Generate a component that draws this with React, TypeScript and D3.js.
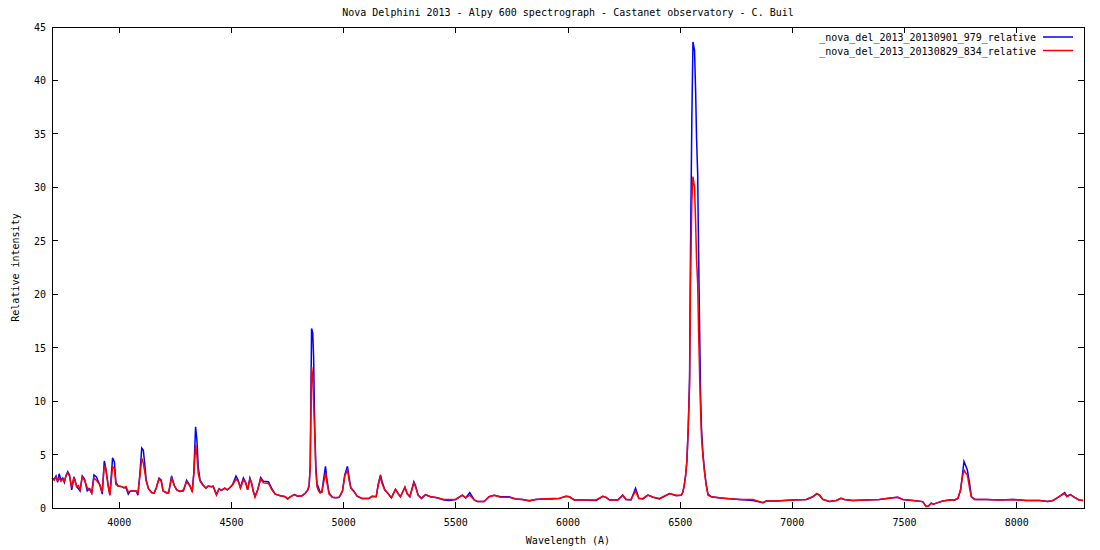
import React from 'react';
import * as d3 from 'd3';

// wavelength grid (Angstrom) shared by both spectra
const wavelengths = [
  3700, 3710, 3718, 3725, 3732, 3740, 3748, 3755, 3762, 3770, 3778, 3788, 3798, 3810, 3818, 3825, 3835, 3845, 3857, 3868,
  3877, 3887, 3898, 3914, 3924, 3933, 3940, 3950, 3958, 3970, 3978, 3985, 3995, 4010, 4020, 4030, 4040, 4050, 4065, 4075,
  4083, 4092, 4100, 4107, 4114, 4120, 4130, 4144, 4155, 4165, 4177, 4187, 4195, 4210, 4220, 4233, 4245, 4256, 4270, 4286,
  4300, 4315, 4325, 4332, 4340, 4346, 4352, 4360, 4372, 4386, 4396, 4411, 4418, 4433, 4445, 4455, 4470, 4481, 4490, 4505,
  4520, 4530, 4540, 4553, 4563, 4572, 4582, 4590, 4597, 4605, 4617, 4630, 4642, 4665, 4680, 4695, 4718, 4740, 4750, 4762,
  4780, 4795, 4815, 4830, 4840, 4846, 4851, 4854, 4857, 4862, 4866, 4871, 4876, 4881, 4888, 4895, 4903, 4912, 4919, 4926,
  4935, 4950, 4965, 4980, 4995, 5005, 5017, 5024, 5032, 5045, 5060, 5082, 5112, 5127, 5145, 5154, 5164, 5171, 5183, 5198,
  5213, 5231, 5243, 5253, 5273, 5283, 5295, 5313, 5320, 5332, 5347, 5365, 5387, 5417, 5447, 5470, 5499, 5529, 5544, 5562,
  5582, 5596, 5626, 5648, 5671, 5700, 5737, 5767, 5797, 5827, 5856, 5886, 5931, 5961, 5991, 6006, 6028, 6065, 6125, 6155,
  6170, 6185, 6222, 6244, 6259, 6281, 6301, 6316, 6334, 6356, 6380, 6408, 6453, 6482, 6505, 6512, 6518, 6524, 6530, 6536,
  6542, 6546, 6552, 6557, 6564, 6569, 6573, 6578, 6582, 6587, 6591, 6595, 6601, 6609, 6616, 6624, 6639, 6672, 6705, 6765,
  6824, 6869, 6883, 6928, 7002, 7062, 7091, 7109, 7121, 7136, 7165, 7195, 7217, 7232, 7269, 7328, 7388, 7447, 7470, 7492,
  7537, 7581, 7596, 7608, 7619, 7629, 7648, 7671, 7700, 7723, 7738, 7750, 7757, 7765, 7772, 7780, 7790, 7798, 7813, 7865,
  7924, 7983, 8043, 8102, 8139, 8161, 8184, 8199, 8214, 8224, 8239, 8258, 8278, 8296,
];

// _nova_del_2013_20130901_979_relative (blue)
const sept01 = [
  2.8, 2.7, 3.0, 2.4, 3.2, 2.6, 2.8, 2.4, 3.0, 3.4, 3.1, 1.7, 2.9, 2.0, 1.8, 1.6, 3.0, 2.7, 1.6, 1.8,
  1.4, 3.1, 2.9, 2.1, 1.3, 4.4, 3.7, 2.2, 1.2, 4.7, 4.3, 2.4, 2.05, 2.0, 1.9, 1.9, 1.3, 1.6, 1.6, 1.6,
  1.2, 3.3, 5.6, 5.4, 4.0, 2.6, 1.8, 1.45, 1.4, 1.9, 2.8, 2.6, 1.6, 1.4, 1.4, 3.0, 2.1, 1.7, 1.55, 1.6,
  2.6, 2.1, 1.5, 3.3, 7.6, 6.3, 3.8, 2.6, 2.2, 1.85, 2.05, 2.0, 2.05, 1.3, 1.8, 1.65, 1.85, 1.7, 1.85, 2.2,
  3.0, 2.6, 1.9, 2.8, 2.4, 1.7, 2.8, 2.3, 1.6, 1.1, 1.7, 2.85, 2.5, 2.45, 1.8, 1.3, 1.15, 1.05, 0.85, 1.05,
  1.25, 1.1, 1.15, 1.4, 1.7, 2.1, 3.9, 10.3, 16.8, 16.4, 14.2, 7.6, 3.9, 2.3, 1.9, 1.5, 1.5, 2.9, 3.9, 2.6,
  1.4, 1.0, 0.95, 1.0, 1.6, 3.1, 3.9, 2.9, 1.9, 1.6, 1.1, 0.9, 0.9, 1.1, 1.05, 2.2, 3.1, 2.5, 1.7, 1.35,
  0.95, 1.75, 1.35, 1.05, 1.95, 1.35, 1.05, 2.45, 2.1, 1.2, 0.9, 1.25, 1.05, 0.95, 0.75, 0.7, 0.8, 1.2, 0.95, 1.45,
  0.75, 0.6, 0.6, 1.05, 1.2, 1.05, 1.05, 0.85, 0.8, 0.65, 0.8, 0.85, 0.85, 0.9, 1.1, 1.05, 0.75, 0.75, 0.7, 1.1,
  1.0, 0.75, 0.75, 1.2, 0.8, 0.75, 1.85, 0.9, 0.85, 1.2, 1.0, 0.85, 1.35, 1.15, 1.2, 1.5, 2.1, 3.0, 4.4, 7.5,
  12.3, 24.0, 36.45, 43.6, 42.8, 38.9, 34.6, 31.3, 24.0, 16.35, 10.4, 7.5, 5.2, 3.4, 2.2, 1.3, 1.05, 0.95, 0.9, 0.8,
  0.7, 0.5, 0.65, 0.65, 0.75, 0.8, 1.05, 1.35, 1.2, 0.8, 0.6, 0.7, 0.9, 0.8, 0.7, 0.75, 0.8, 0.95, 1.0, 0.8,
  0.7, 0.6, 0.15, 0.2, 0.45, 0.35, 0.5, 0.65, 0.75, 0.75, 0.9, 1.7, 2.9, 4.35, 4.0, 3.55, 2.3, 1.05, 0.8, 0.8,
  0.75, 0.8, 0.7, 0.7, 0.6, 0.7, 1.0, 1.2, 1.45, 1.1, 1.25, 1.0, 0.75, 0.7,
];

// _nova_del_2013_20130829_834_relative (red)
const aug29 = [
  2.8, 2.6, 2.9, 2.6, 2.8, 2.5, 2.7, 2.5, 3.0, 3.3, 3.0, 1.9, 2.9, 2.0, 2.1, 1.7, 2.9, 2.6, 1.9, 1.7,
  1.4, 2.8, 2.6, 2.15, 1.5, 4.0, 3.6, 2.1, 1.2, 3.9, 3.7, 2.2, 2.05, 2.0, 1.9, 2.0, 1.5, 1.6, 1.6, 1.6,
  1.4, 3.0, 4.65, 4.2, 3.3, 2.5, 1.8, 1.45, 1.4, 1.9, 2.7, 2.5, 1.6, 1.45, 1.45, 2.8, 2.1, 1.7, 1.55, 1.7,
  2.45, 2.05, 1.6, 3.1, 5.9, 4.9, 3.2, 2.5, 2.15, 1.85, 2.05, 2.0, 2.05, 1.2, 1.8, 1.65, 1.85, 1.7, 1.85, 2.15,
  2.7, 2.5, 1.85, 2.6, 2.4, 1.7, 2.7, 2.3, 1.55, 1.0, 1.7, 2.7, 2.35, 2.3, 1.7, 1.3, 1.15, 1.05, 0.85, 1.05,
  1.25, 1.1, 1.15, 1.4, 1.7, 2.0, 3.9, 8.5, 13.2, 12.3, 10.0, 7.0, 3.5, 2.0, 1.6, 1.4, 1.5, 2.5, 3.3, 2.3,
  1.3, 1.0, 0.95, 1.0, 1.6, 3.0, 3.55, 2.6, 1.85, 1.55, 1.1, 0.9, 0.9, 1.1, 1.05, 2.15, 2.9, 2.3, 1.7, 1.35,
  0.95, 1.75, 1.35, 1.05, 1.95, 1.35, 1.05, 2.35, 2.0, 1.2, 0.9, 1.25, 1.05, 0.95, 0.8, 0.8, 0.8, 1.2, 0.95, 1.2,
  0.75, 0.6, 0.6, 1.05, 1.2, 1.0, 1.0, 0.85, 0.8, 0.7, 0.8, 0.85, 0.9, 0.9, 1.1, 1.05, 0.75, 0.75, 0.75, 1.1,
  1.0, 0.75, 0.75, 1.2, 0.8, 0.8, 1.6, 0.9, 0.9, 1.2, 1.0, 0.9, 1.35, 1.2, 1.2, 1.5, 2.1, 3.0, 4.4, 7.5,
  11.5, 21.0, 28.65, 31.0, 30.0, 26.65, 23.2, 21.0, 16.65, 12.15, 9.15, 6.7, 4.95, 3.25, 2.15, 1.2, 1.05, 0.95, 0.9, 0.8,
  0.8, 0.5, 0.65, 0.65, 0.75, 0.8, 1.05, 1.35, 1.2, 0.8, 0.6, 0.7, 0.9, 0.8, 0.7, 0.75, 0.8, 0.95, 1.0, 0.8,
  0.7, 0.6, 0.15, 0.2, 0.45, 0.35, 0.5, 0.65, 0.75, 0.75, 0.9, 1.7, 2.8, 3.55, 3.3, 3.1, 1.85, 1.05, 0.8, 0.8,
  0.75, 0.8, 0.7, 0.7, 0.6, 0.7, 1.0, 1.2, 1.35, 1.05, 1.25, 1.0, 0.75, 0.7,
];

const xTicks = [4000, 4500, 5000, 5500, 6000, 6500, 7000, 7500, 8000];
const yTicks = [0, 5, 10, 15, 20, 25, 30, 35, 40, 45];

const series = [
  { name: '_nova_del_2013_20130901_979_relative', values: sept01, color: '#0000ff' },
  { name: '_nova_del_2013_20130829_834_relative', values: aug29, color: '#ff0000' },
];

const W = 1100;
const H = 550;
const margin = { top: 27, right: 16, bottom: 42, left: 52 };
const font = '"DejaVu Sans Mono", monospace';

const App: React.FC = () => {
  const x = d3.scaleLinear().domain([3700, 8300]).range([margin.left, W - margin.right]);
  const y = d3.scaleLinear().domain([0, 45]).range([H - margin.bottom, margin.top]);
  const x0 = margin.left, x1 = W - margin.right;
  const y0 = H - margin.bottom, y1 = margin.top;
  const tick = 6;

  const line = (vals: number[]) =>
    d3.line<number>()
      .x((_, i) => x(wavelengths[i]))
      .y(v => y(v))(vals) as string;

  return (
    <svg width={W} height={H} style={{ position: 'absolute', left: 0, top: 0, background: '#fff' }}
      fontFamily={font} fontSize={10}>
      {/* title */}
      <text x={(x0 + x1) / 2} y={16} textAnchor="middle">
        Nova Delphini 2013 - Alpy 600 spectrograph - Castanet observatory - C. Buil
      </text>

      {/* ticks, mirrored on all sides */}
      <g stroke="#000" strokeWidth={1} shapeRendering="crispEdges">
        {xTicks.map(t => (
          <g key={'x' + t}>
            <line x1={x(t)} x2={x(t)} y1={y0} y2={y0 - tick} />
            <line x1={x(t)} x2={x(t)} y1={y1} y2={y1 + tick} />
          </g>
        ))}
        {yTicks.map(t => (
          <g key={'y' + t}>
            <line x1={x0} x2={x0 + tick} y1={y(t)} y2={y(t)} />
            <line x1={x1} x2={x1 - tick} y1={y(t)} y2={y(t)} />
          </g>
        ))}
      </g>

      {xTicks.map(t => (
        <text key={'xl' + t} x={x(t)} y={y0 + 18} textAnchor="middle">{t}</text>
      ))}
      {yTicks.map(t => (
        <text key={'yl' + t} x={x0 - 6} y={y(t) + 4} textAnchor="end">{t}</text>
      ))}

      {/* spectra */}
      <g fill="none" strokeWidth={1.5} strokeLinejoin="miter">
        {series.map(s => (
          <path key={s.name} d={line(s.values)} stroke={s.color} />
        ))}
      </g>

      <rect x={x0} y={y1} width={x1 - x0} height={y0 - y1} fill="none" stroke="#000"
        strokeWidth={1} shapeRendering="crispEdges" />

      {/* legend */}
      {series.map((s, i) => (
        <g key={'lg' + s.name} transform={`translate(0, ${37 + i * 13.5})`}>
          <text x={1036} y={4} textAnchor="end">{s.name}</text>
          <line x1={1043} x2={1073} y1={0} y2={0} stroke={s.color} strokeWidth={1.5} />
        </g>
      ))}

      {/* axis labels */}
      <text x={(x0 + x1) / 2} y={544} textAnchor="middle">Wavelength (A)</text>
      <text transform={`translate(19, ${(y0 + y1) / 2}) rotate(-90)`} textAnchor="middle">
        Relative intensity
      </text>
    </svg>
  );
};

export default App;
